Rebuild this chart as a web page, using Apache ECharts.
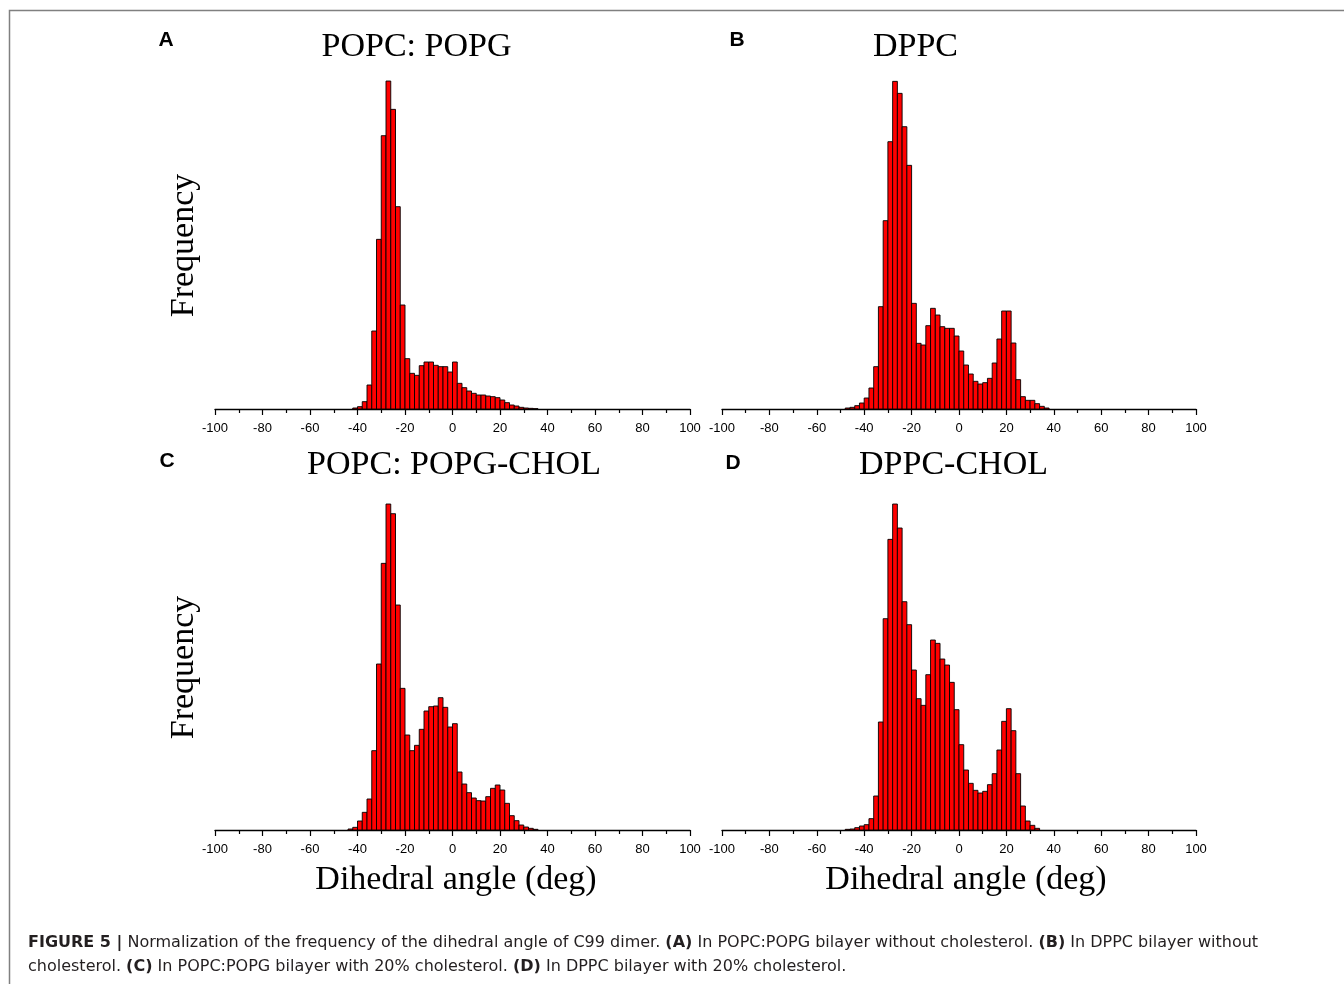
<!DOCTYPE html>
<html>
<head>
<meta charset="utf-8">
<script src="https://cdn.jsdelivr.net/npm/echarts@6/dist/echarts.min.js"></script>
<style>
html,body{margin:0;padding:0;background:#fff;}
#chart{width:1344px;height:984px;}
</style>
</head>
<body>
<div id="chart"></div>
<script>
// Bin start positions (deg); each bin is 2 deg wide
const binStarts = [-48,-46,-44,-42,-40,-38,-36,-34,-32,-30,-28,-26,-24,-22,-20,-18,-16,-14,-12,-10,-8,-6,-4,-2,0,2,4,6,8,10,12,14,16,18,20,22,24,26,28,30,32,34,36];
const BIN_WIDTH = 2;

// Relative frequencies (arbitrary units)
const freqA = [0,0,0,3,7,22,72,234,509,820,984,899,607,312,151,107,101,130,141,141,131,127,127,111,141,77,64,54,47,42,42,39,37,34,27,19,12,9,5,3,2,1,0];
const freqB = [3,5,10,18,33,63,127,307,565,802,983,947,847,731,317,197,192,250,302,282,247,242,242,219,174,132,105,83,75,79,92,138,210,294,294,198,88,37,26,26,16,8,3];
const freqC = [0,0,3,8,27,53,93,238,498,800,978,949,675,425,285,238,254,302,357,370,372,397,368,309,319,174,138,112,96,88,87,100,125,135,120,80,43,28,15,9,5,2,0];
const freqD = [2,3,7,12,16,34,102,324,634,872,978,906,685,616,480,394,374,466,570,560,513,495,443,361,256,180,140,119,111,116,136,169,240,326,364,298,169,72,27,14,5,0,0];

const panelTitles = ['POPC: POPG', 'DPPC', 'POPC: POPG-CHOL', 'DPPC-CHOL'];
const panelLetters = ['A', 'B', 'C', 'D'];
const xTickMin = -100, xTickMax = 100, xTickStep = 20;
const xAxisTitle = 'Dihedral angle (deg)';
const yAxisTitle = 'Frequency';
const captionLine1 = '{b|FIGURE 5 |} Normalization of the frequency of the dihedral angle of C99 dimer. {b|(A)} In POPC:POPG bilayer without cholesterol. {b|(B)} In DPPC bilayer without';
const captionLine2 = 'cholesterol. {b|(C)} In POPC:POPG bilayer with 20% cholesterol. {b|(D)} In DPPC bilayer with 20% cholesterol.';

const chart = echarts.init(document.getElementById('chart'));

const grids = [
  {left:215, top:75.7, width:475, height:333.3},
  {left:722, top:75.7, width:474, height:333.3},
  {left:215, top:496.7, width:475, height:333.3},
  {left:722, top:496.7, width:474, height:333.3}
];

const xAxes = grids.map((g, i) => ({
  type:'value', gridIndex:i, min:xTickMin, max:xTickMax, interval:xTickStep,
  axisLine:{show:true, onZero:false, lineStyle:{color:'#000', width:1.3}},
  axisTick:{show:true, length:6, lineStyle:{color:'#000', width:1.2}},
  minorTick:{show:true, splitNumber:2, length:4, lineStyle:{color:'#000', width:1.2}},
  axisLabel:{color:'#000', fontSize:13, fontFamily:'Liberation Sans, Arial, sans-serif', margin:13},
  splitLine:{show:false}
}));
const yAxes = grids.map((g, i) => ({type:'value', gridIndex:i, min:0, max:1000, show:false}));

function renderBar(params, api) {
  const start = api.value(0), end = api.value(1), h = api.value(2);
  const p0 = api.coord([start, h]);
  const p1 = api.coord([end, 0]);
  return {
    type:'rect',
    shape:{x:p0[0], y:p0[1], width:p1[0]-p0[0], height:p1[1]-p0[1]},
    style:{fill:'#ff0000', stroke:'#000', lineWidth:0.9}
  };
}

const allFreq = [freqA, freqB, freqC, freqD];
const series = allFreq.map((arr, i) => ({
  type:'custom', xAxisIndex:i, yAxisIndex:i, renderItem:renderBar,
  encode:{x:[0,1], y:2},
  data: binStarts.map((s, k) => [s, s + BIN_WIDTH, arr[k]]).filter(d => d[2] > 0),
  z:1
}));

const serif = 'Liberation Serif, "Times New Roman", serif';
const sans = 'Liberation Sans, Arial, sans-serif';
const capFont = '"DejaVu Sans", sans-serif';
const titlePos = [[416.5,47],[915.5,47],[454,465],[953.5,465]];
const letterPos = [[166,40],[737,40],[167,461],[733,463]];

const graphics = [];
panelTitles.forEach((t, i) => {
  graphics.push({type:'text', x:titlePos[i][0], y:titlePos[i][1],
    style:{text:t, font:'34px ' + serif, fill:'#000', textAlign:'center', textVerticalAlign:'middle'}});
  graphics.push({type:'text', x:letterPos[i][0], y:letterPos[i][1],
    style:{text:panelLetters[i], font:'bold 21px ' + sans, fill:'#000', textAlign:'center', textVerticalAlign:'middle'}});
});
[[184,245.5],[184,667.5]].forEach(p => {
  graphics.push({type:'text', x:p[0], y:p[1], rotation:Math.PI/2,
    style:{text:yAxisTitle, font:'34px ' + serif, fill:'#000', textAlign:'center', textVerticalAlign:'middle'}});
});
[[456,880],[966,880]].forEach(p => {
  graphics.push({type:'text', x:p[0], y:p[1],
    style:{text:xAxisTitle, font:'34px ' + serif, fill:'#000', textAlign:'center', textVerticalAlign:'middle'}});
});
// frame
graphics.push({type:'polyline', shape:{points:[[1344,10.5],[9.5,10.5],[9.5,984]]},
  style:{stroke:'#808080', lineWidth:1.5, fill:null}});
// caption
[[captionLine1, 943],[captionLine2, 967]].forEach(c => {
  graphics.push({type:'text', x:28, y:c[1], style:{
    text:c[0], font:'16px ' + capFont, fill:'#231f20', textVerticalAlign:'middle',
    rich:{b:{fontWeight:'bold', fontSize:16, fontFamily:capFont, fill:'#231f20'}}
  }});
});

chart.setOption({
  animation:false,
  backgroundColor:'#fff',
  grid:grids,
  xAxis:xAxes,
  yAxis:yAxes,
  series:series,
  graphic:graphics
});
</script>
</body>
</html>
